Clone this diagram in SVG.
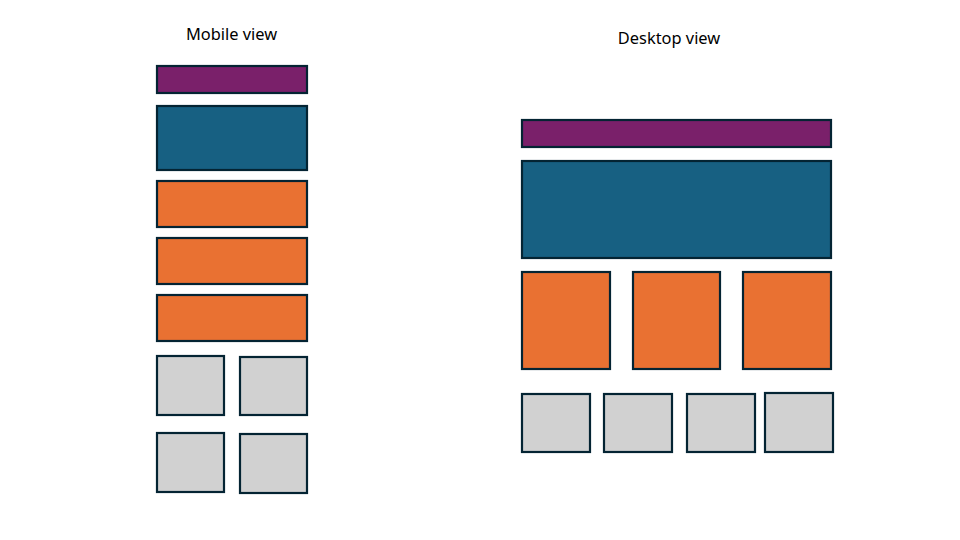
<svg xmlns="http://www.w3.org/2000/svg" width="960" height="540" viewBox="0 0 960 540">
<style>
.b{stroke:#042433;stroke-width:2.2}
.p{fill:#7A206A}
.h{fill:#176082}
.o{fill:#E97132}
.g{fill:#D1D1D1}
.t{font-family:"Noto Sans","Liberation Sans",sans-serif;font-size:16.4px;fill:#000;text-anchor:middle}
</style>
<rect width="960" height="540" fill="#fff"/>
<text class="t" x="231.5" y="40">Mobile view</text>
<text class="t" x="669" y="44">Desktop view</text>
<g id="mobile">
<g id="m-nav"><rect class="b p" x="157" y="66" width="150" height="27"/></g>
<g id="m-hero"><rect class="b h" x="157" y="106" width="150" height="64"/></g>
<g id="m-card1"><rect class="b o" x="157" y="181" width="150" height="46"/></g>
<g id="m-card2"><rect class="b o" x="157" y="238" width="150" height="46"/></g>
<g id="m-card3"><rect class="b o" x="157" y="295" width="150" height="46"/></g>
<g id="m-tile1"><rect class="b g" x="157" y="356" width="67" height="59"/></g>
<g id="m-tile2"><rect class="b g" x="240" y="357" width="67" height="58"/></g>
<g id="m-tile3"><rect class="b g" x="157" y="433" width="67" height="59"/></g>
<g id="m-tile4"><rect class="b g" x="240" y="434" width="67" height="59"/></g>
</g>
<g id="desktop">
<g id="d-nav"><rect class="b p" x="522" y="120" width="309" height="27"/></g>
<g id="d-hero"><rect class="b h" x="522" y="161" width="309" height="97"/></g>
<g id="d-card1"><rect class="b o" x="522" y="272" width="88" height="97"/></g>
<g id="d-card2"><rect class="b o" x="633" y="272" width="87" height="97"/></g>
<g id="d-card3"><rect class="b o" x="743" y="272" width="88" height="97"/></g>
<g id="d-tile1"><rect class="b g" x="522" y="394" width="68" height="58"/></g>
<g id="d-tile2"><rect class="b g" x="604" y="394" width="68" height="58"/></g>
<g id="d-tile3"><rect class="b g" x="687" y="394" width="68" height="58"/></g>
<g id="d-tile4"><rect class="b g" x="765" y="393" width="68" height="59"/></g>
</g>
<g id="connectors"/>
</svg>
